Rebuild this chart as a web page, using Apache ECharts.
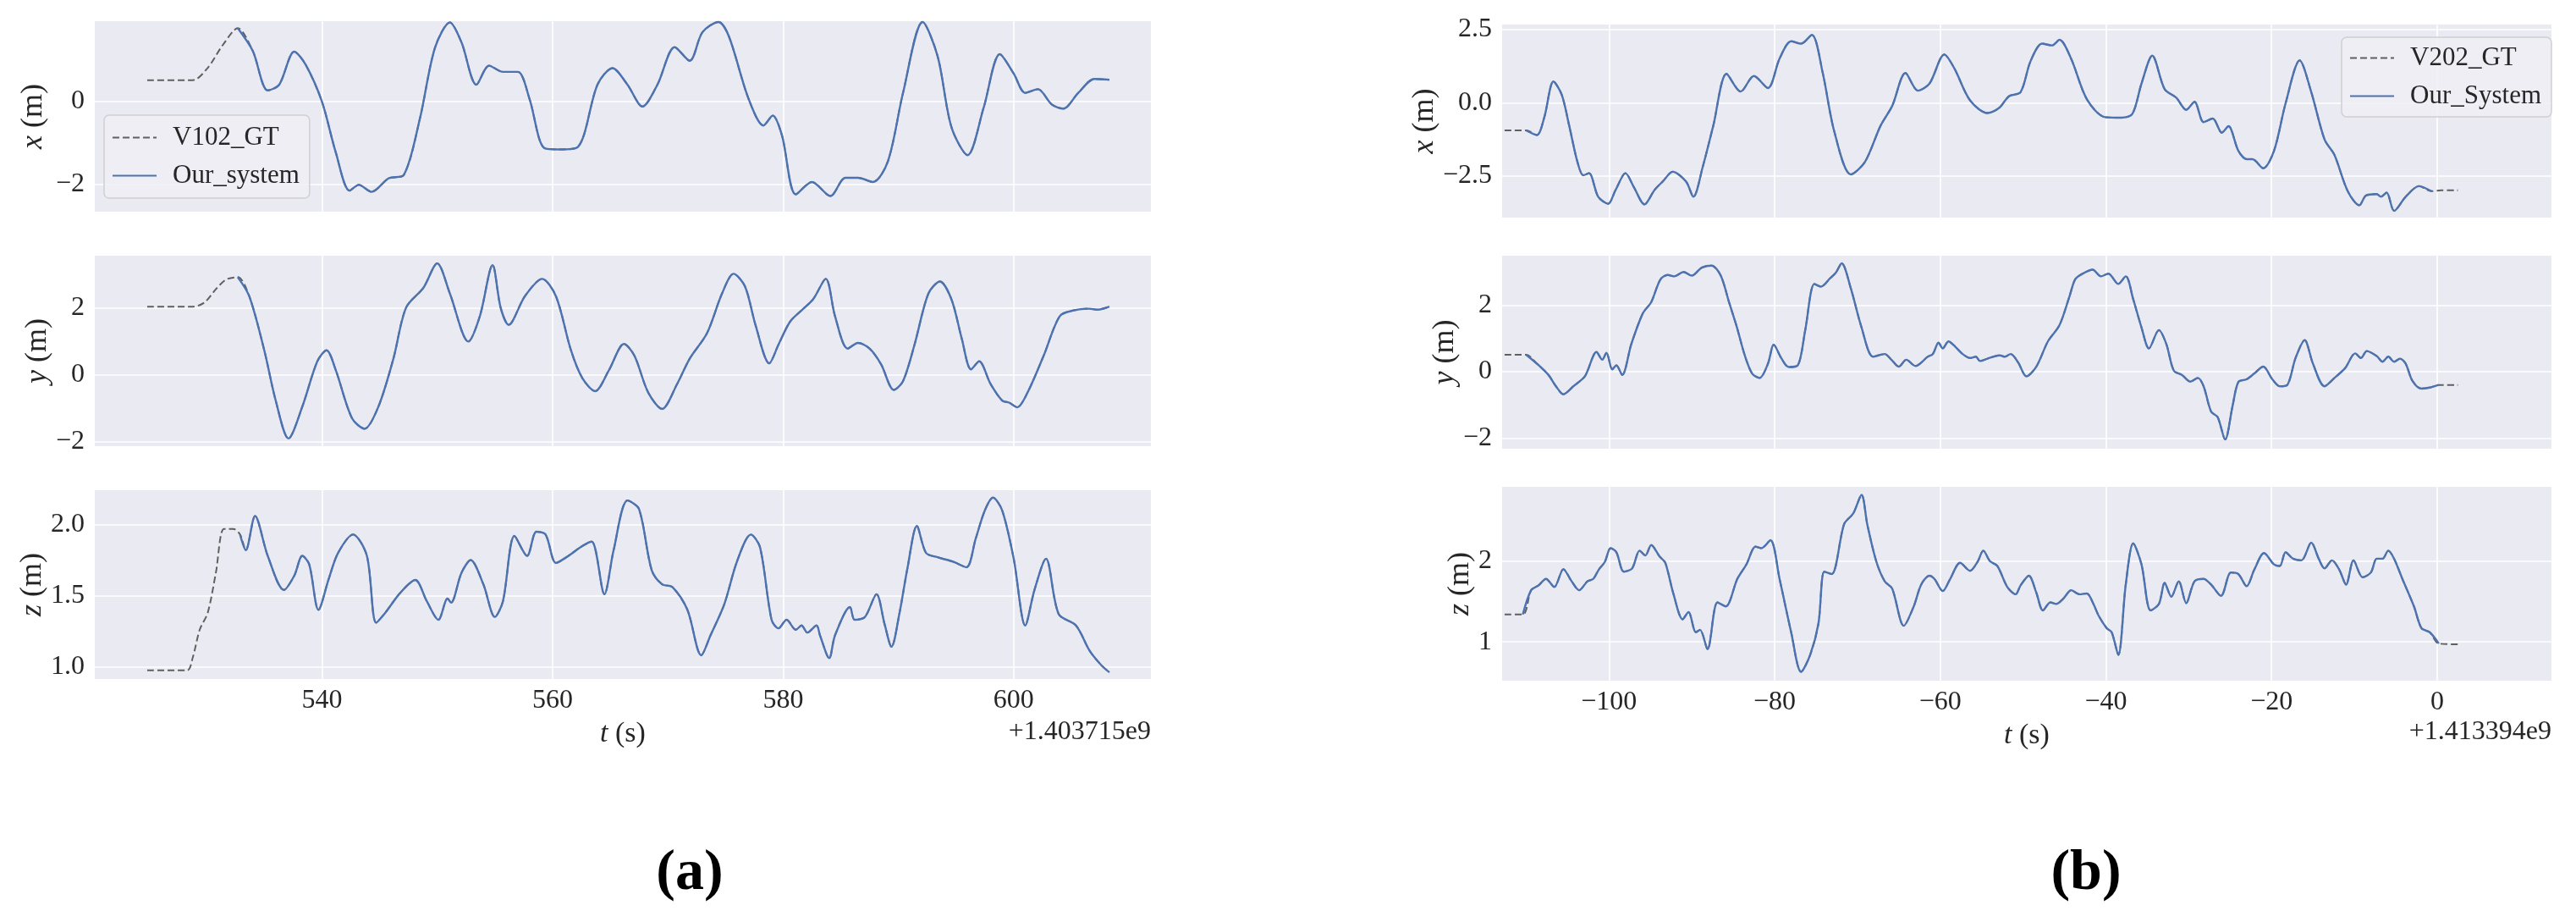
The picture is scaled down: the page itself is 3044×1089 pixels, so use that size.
<!DOCTYPE html>
<html><head><meta charset="utf-8">
<script src="https://cdn.jsdelivr.net/npm/echarts@6/dist/echarts.min.js"></script>
<style>html,body{margin:0;padding:0;background:#fff}#c{width:3044px;height:1089px}</style>
</head><body><div id="c"></div>
<script>
// ---------- (a) V102 : time offsets from 1.403715e9 s ----------
const aXt = [524.85,528.8,530.1,531.4,532.7,534.0,535.3,536.3,537.6,538.6,540.0,541.2,542.4,543.2,544.3,545.8,547.1,548.5,549.8,551.1,552.1,553.4,554.5,555.7,557.0,558.0,559.3,560.6,562.2,563.9,565.2,566.5,567.8,569.1,570.6,571.9,573.0,574.4,575.3,577.0,578.3,579.1,579.9,581.1,582.5,584.1,585.4,586.5,587.8,589.1,590.4,592.1,593.4,594.6,596.0,597.4,598.8,600.0,601.0,602.1,603.3,604.3,605.6,607.0,608.3];
const aXv = [0.52,0.52,0.82,1.37,1.78,1.23,0.27,0.41,1.21,0.89,0.0,-1.23,-2.16,-2.02,-2.19,-1.86,-1.78,-0.41,1.30,1.92,1.44,0.41,0.87,0.72,0.72,0.07,-1.13,-1.16,-1.10,0.41,0.81,0.41,-0.12,0.41,1.32,0.99,1.68,1.93,1.58,0.07,-0.58,-0.34,-0.82,-2.25,-1.95,-2.29,-1.85,-1.85,-1.95,-1.44,0.21,1.93,1.10,-0.62,-1.30,-0.14,1.15,0.68,0.21,0.30,-0.07,-0.17,0.21,0.55,0.53];
const aYt = [524.85,528.8,529.8,530.8,531.7,532.7,533.7,535.0,536.0,537.1,538.3,539.6,540.4,541.2,542.6,543.7,544.9,546.2,547.3,548.8,550.0,551.1,552.7,553.7,554.8,555.5,556.2,557.6,559.1,560.3,561.6,562.6,563.7,564.9,566.2,567.1,568.3,569.5,570.8,571.9,573.4,574.7,575.7,576.7,577.6,578.8,579.6,580.6,581.6,582.6,583.7,584.5,585.6,586.5,587.5,588.5,589.6,590.4,591.4,592.6,593.6,594.6,595.5,596.3,597.0,598.0,599.0,599.6,600.3,601.2,602.6,604.0,605.2,606.5,607.3,608.3];
const aYv = [2.03,2.03,2.15,2.55,2.84,2.91,2.34,0.73,-0.78,-1.90,-0.95,0.40,0.73,0.14,-1.29,-1.61,-0.95,0.48,2.0,2.59,3.32,2.42,0.99,1.75,3.27,2.0,1.49,2.34,2.86,2.34,0.73,-0.11,-0.49,0.14,0.92,0.57,-0.53,-1.02,-0.28,0.48,1.24,2.42,3.01,2.63,1.49,0.34,0.90,1.58,1.92,2.25,2.86,1.75,0.78,0.95,0.78,0.31,-0.45,-0.19,0.90,2.42,2.78,2.25,1.07,0.16,0.40,-0.28,-0.77,-0.83,-0.97,-0.53,0.57,1.75,1.92,1.97,1.94,2.03];
const aZt = [524.85,528.3,528.8,529.4,530.1,530.8,531.5,532.3,532.9,533.4,534.2,535.3,536.7,537.6,538.3,538.9,539.7,540.6,541.4,542.7,543.9,544.7,545.5,546.8,548.1,549.1,550.1,550.9,551.2,552.1,552.9,554.0,555.0,555.7,556.7,557.8,558.6,559.4,560.3,561.2,562.6,563.4,564.5,565.3,566.5,567.5,568.6,569.5,570.4,571.7,572.9,573.7,574.9,576.0,577.2,578.0,579.0,579.6,580.3,581.1,581.6,582.1,582.9,583.2,584.0,584.5,585.8,586.2,587.1,588.1,588.8,589.4,590.1,590.8,591.6,592.4,593.4,594.7,595.9,596.7,597.5,598.2,599.0,600.0,601.0,601.8,602.8,603.9,605.4,606.6,607.6,608.3];
const aZv = [0.974,0.974,1.065,1.26,1.38,1.66,1.97,1.97,1.93,1.82,2.06,1.78,1.54,1.64,1.78,1.72,1.40,1.62,1.80,1.93,1.78,1.31,1.38,1.52,1.61,1.46,1.33,1.48,1.45,1.66,1.75,1.58,1.35,1.46,1.92,1.78,1.95,1.93,1.73,1.77,1.85,1.88,1.51,1.82,2.17,2.11,1.68,1.58,1.56,1.40,1.08,1.22,1.44,1.74,1.93,1.84,1.33,1.27,1.33,1.26,1.29,1.24,1.29,1.22,1.06,1.22,1.42,1.33,1.35,1.51,1.30,1.14,1.38,1.70,1.99,1.80,1.77,1.74,1.70,1.90,2.10,2.19,2.10,1.76,1.29,1.54,1.76,1.37,1.29,1.11,1.01,0.96];
const aSysStart = 532.7, aSysEnd = 608.3;

// ---------- (b) V202 : time offsets from 1.413394e9 s ----------
const bXt = [-112.6,-110.0,-108.7,-107.8,-106.7,-105.7,-104.8,-103.8,-103.1,-102.4,-101.3,-100.1,-99.2,-98.0,-97.0,-95.7,-94.5,-93.5,-92.3,-90.7,-89.8,-88.7,-87.4,-85.8,-84.1,-82.5,-80.8,-79.4,-78.0,-76.8,-75.5,-74.2,-72.8,-70.8,-69.1,-67.2,-65.8,-64.2,-62.7,-61.3,-59.5,-58.3,-56.4,-54.3,-52.9,-51.7,-50.3,-49.1,-47.7,-46.5,-45.6,-44.2,-42.3,-40.1,-38.1,-36.8,-35.7,-34.4,-32.9,-31.5,-30.3,-29.3,-28.2,-27.1,-26.0,-25.2,-24.0,-23.0,-22.3,-21.0,-19.7,-18.3,-16.6,-15.2,-13.6,-12.4,-10.8,-9.4,-8.6,-7.3,-6.8,-6.1,-5.2,-3.8,-2.2,-0.7,0.5,2.5];
const bXv = [-0.94,-0.94,-1.10,-0.49,0.72,0.27,-0.78,-2.02,-2.47,-2.40,-3.20,-3.44,-2.97,-2.40,-2.87,-3.46,-2.97,-2.68,-2.35,-2.68,-3.20,-2.21,-0.78,0.98,0.38,0.91,0.50,1.50,2.09,2.01,2.31,1.03,-0.97,-2.44,-2.02,-0.78,-0.11,1.01,0.41,0.65,1.64,1.17,0.08,-0.35,-0.18,0.22,0.36,1.41,2.01,1.95,2.14,1.50,0.12,-0.49,-0.51,-0.38,0.65,1.60,0.46,0.17,-0.24,0.03,-0.66,-0.54,-1.02,-0.80,-1.64,-1.92,-1.92,-2.23,-1.64,-0.02,1.44,0.36,-1.25,-1.78,-3.01,-3.49,-3.16,-3.11,-3.20,-3.06,-3.68,-3.20,-2.84,-3.01,-2.98,-2.98];
const bYt = [-112.6,-110.0,-108.7,-107.3,-106.4,-105.5,-104.3,-102.9,-101.5,-100.8,-100.3,-99.6,-99.1,-98.4,-97.3,-95.9,-94.9,-93.8,-92.9,-92.1,-91.0,-90.0,-88.8,-87.6,-86.5,-85.5,-84.6,-83.6,-82.7,-81.8,-80.8,-80.1,-79.2,-78.3,-77.2,-76.3,-75.2,-74.4,-73.3,-72.6,-71.9,-70.8,-69.5,-68.1,-66.7,-65.9,-65.0,-64.1,-63.0,-61.5,-60.9,-60.2,-59.7,-59.0,-58.3,-57.3,-56.4,-55.7,-55.2,-54.3,-53.6,-52.8,-52.2,-51.5,-50.6,-49.6,-48.4,-47.0,-45.6,-44.4,-43.7,-42.8,-41.6,-40.6,-39.7,-38.5,-37.6,-36.7,-35.7,-34.8,-33.6,-32.7,-31.8,-30.8,-29.8,-28.9,-28.2,-27.3,-26.5,-25.6,-24.7,-24.0,-23.0,-22.1,-21.0,-19.9,-19.0,-18.1,-17.1,-16.0,-15.0,-13.6,-12.4,-11.1,-9.9,-9.2,-8.5,-7.3,-6.6,-5.9,-5.2,-4.5,-3.8,-3.0,-1.9,-0.9,0.2,2.5];
const bYv = [0.51,0.51,0.24,-0.10,-0.44,-0.68,-0.44,-0.14,0.59,0.36,0.57,0.07,0.19,-0.10,0.83,1.76,2.09,2.77,2.91,2.87,3.00,2.89,3.13,3.19,2.89,2.09,1.38,0.49,-0.06,-0.19,0.24,0.81,0.41,0.14,0.19,1.25,2.64,2.56,2.81,2.98,3.26,2.51,1.33,0.45,0.53,0.36,0.15,0.36,0.17,0.45,0.53,0.87,0.70,0.91,0.78,0.53,0.41,0.45,0.32,0.39,0.45,0.49,0.45,0.53,0.28,-0.14,0.15,0.91,1.40,2.26,2.78,2.95,3.07,2.87,2.95,2.64,2.87,2.18,1.33,0.70,1.25,0.83,0.03,-0.10,-0.30,-0.19,-0.44,-1.20,-1.37,-2.04,-1.03,-0.31,-0.23,-0.06,0.15,-0.23,-0.44,-0.40,0.41,0.95,0.24,-0.44,-0.19,0.11,0.55,0.41,0.62,0.47,0.30,0.45,0.30,0.39,0.24,-0.27,-0.51,-0.48,-0.40,-0.40];
const bZt = [-112.6,-110.4,-109.4,-108.5,-107.6,-106.6,-105.5,-104.5,-103.6,-102.6,-101.9,-101.2,-100.5,-99.8,-99.1,-98.2,-97.2,-96.3,-95.6,-94.9,-93.9,-93.2,-92.2,-91.1,-90.4,-89.5,-89.0,-88.1,-86.9,-85.9,-84.5,-83.4,-82.3,-81.6,-80.5,-79.4,-78.0,-76.8,-75.7,-74.7,-74.0,-73.1,-71.6,-70.5,-69.5,-68.8,-67.7,-66.7,-65.8,-64.4,-63.2,-62.3,-61.3,-60.7,-59.7,-58.8,-57.6,-56.4,-55.5,-54.8,-54.0,-53.1,-51.9,-50.9,-50.3,-49.3,-48.4,-47.6,-46.7,-46.0,-45.1,-44.2,-43.2,-42.3,-41.5,-40.9,-39.9,-39.3,-38.5,-37.6,-36.7,-35.7,-34.6,-33.6,-32.9,-32.1,-31.2,-30.3,-29.3,-28.2,-27.3,-26.1,-24.9,-24.0,-23.0,-22.1,-20.9,-19.7,-19.0,-18.3,-17.4,-16.4,-15.2,-14.3,-13.6,-12.7,-11.8,-11.0,-10.1,-9.0,-8.0,-7.3,-6.6,-5.9,-5.2,-4.2,-2.8,-1.9,-0.9,0.2,2.5];
const bZv = [1.34,1.34,1.64,1.70,1.78,1.68,1.90,1.75,1.64,1.75,1.78,1.90,1.99,2.16,2.11,1.87,1.91,2.13,2.07,2.20,2.06,1.98,1.59,1.28,1.37,1.12,1.15,0.91,1.49,1.44,1.78,1.96,2.18,2.16,2.26,1.78,1.12,0.63,0.84,1.23,1.87,1.84,2.46,2.59,2.82,2.45,1.99,1.75,1.66,1.20,1.44,1.71,1.82,1.78,1.63,1.78,1.98,1.88,1.99,2.13,2.00,1.94,1.68,1.59,1.70,1.82,1.61,1.39,1.49,1.47,1.54,1.64,1.59,1.60,1.47,1.33,1.17,1.12,0.84,1.71,2.22,1.96,1.39,1.47,1.73,1.56,1.75,1.48,1.75,1.78,1.71,1.57,1.86,1.84,1.69,1.89,2.10,1.96,1.94,2.11,2.03,2.01,2.23,2.03,1.91,2.01,1.89,1.71,2.01,1.80,1.86,2.03,2.03,2.13,2.03,1.78,1.44,1.17,1.12,0.98,0.97];
const bSysStart = -110.5, bSysEnd = 0.2;

// ---------- axis ticks / names ----------
const aTimeTicks = [540, 560, 580, 600];
const bTimeTicks = [-100, -80, -60, -40, -20, 0];
const aXTicks = [-2, 0], aYTicks = [-2, 0, 2], aZTicks = [1.0, 1.5, 2.0];
const bXTicks = [-2.5, 0, 2.5], bYTicks = [-2, 0, 2], bZTicks = [1, 2];
const aOffset = '+1.403715e9', bOffset = '+1.413394e9';
const aNames = ['V102_GT', 'Our_system'];
const bNames = ['V202_GT', 'Our_System'];

const FONT = '"Liberation Serif","Times New Roman",serif';
const TXT = '#262626';
const BG = '#EAEAF2';
const BLUE = '#4C72B0';
const GREY = '#606060';
const minus = s => s.replace('-', '\u2212');

function pairs(ts, vs, lo, hi) {
  const out = [];
  for (let i = 0; i < ts.length; i++) {
    if (lo === undefined || (ts[i] >= lo && ts[i] <= hi)) out.push([ts[i], vs[i]]);
  }
  return out;
}

const panels = [
  {grid:{left:112, top:25, width:1248, height:225}, xr:[520.3,611.9], yr:[-2.67,1.95], yt:aXTicks, dec:0, t:aXt, v:aXv, names:aNames, s:[aSysStart,aSysEnd], ylab:'x', gap:54, bottom:false, xt:aTimeTicks},
  {grid:{left:112, top:302, width:1248, height:225}, xr:[520.3,611.9], yr:[-2.13,3.55], yt:aYTicks, dec:0, t:aYt, v:aYv, names:aNames, s:[aSysStart,aSysEnd], ylab:'y', gap:49, bottom:false, xt:aTimeTicks},
  {grid:{left:112, top:579, width:1248, height:223}, xr:[520.3,611.9], yr:[0.913,2.242], yt:aZTicks, dec:1, t:aZt, v:aZv, names:aNames, s:[aSysStart,aSysEnd], ylab:'z', gap:52, bottom:true, xt:aTimeTicks},
  {grid:{left:1775, top:29, width:1240, height:228}, xr:[-112.9,13.8], yr:[-3.91,2.66], yt:bXTicks, dec:1, t:bXt, v:bXv, names:bNames, s:[bSysStart,bSysEnd], ylab:'x', gap:71, bottom:false, xt:bTimeTicks},
  {grid:{left:1775, top:302, width:1240, height:228}, xr:[-112.9,13.8], yr:[-2.32,3.49], yt:bYTicks, dec:0, t:bYt, v:bYv, names:bNames, s:[bSysStart,bSysEnd], ylab:'y', gap:49, bottom:false, xt:bTimeTicks},
  {grid:{left:1775, top:575, width:1240, height:229}, xr:[-112.9,13.8], yr:[0.52,2.92], yt:bZTicks, dec:0, t:bZt, v:bZv, names:bNames, s:[bSysStart,bSysEnd], ylab:'z', gap:26, bottom:true, xt:bTimeTicks}
];

const grid = [], xAxis = [], yAxis = [], series = [];
panels.forEach((p, i) => {
  grid.push(Object.assign({backgroundColor: BG, show: true, borderWidth: 0}, p.grid));
  xAxis.push({
    type: 'value', gridIndex: i, min: p.xr[0], max: p.xr[1],
    axisLine: {show: false},
    axisTick: {show: false, customValues: p.xt},
    axisLabel: {show: p.bottom, customValues: p.xt, formatter: v => minus(String(v)),
      fontFamily: FONT, fontSize: 32, color: TXT, margin: 10},
    splitLine: {show: true, lineStyle: {color: '#ffffff', width: 1.6}},
    name: p.bottom ? '{i|t} (s)' : '', nameLocation: 'middle', nameGap: 48,
    nameTextStyle: {fontFamily: FONT, fontSize: 34, color: TXT,
      rich: {i: {fontFamily: FONT, fontSize: 34, fontStyle: 'italic', color: TXT}}}
  });
  yAxis.push({
    type: 'value', gridIndex: i, min: p.yr[0], max: p.yr[1],
    axisLine: {show: false},
    axisTick: {show: false, customValues: p.yt},
    axisLabel: {customValues: p.yt, formatter: v => minus(v.toFixed(p.dec)),
      fontFamily: FONT, fontSize: 32, color: TXT, margin: 12},
    splitLine: {show: true, lineStyle: {color: '#ffffff', width: 1.6}},
    name: '{i|' + p.ylab + '} (m)', nameLocation: 'middle', nameRotate: 90, nameGap: p.gap,
    nameTextStyle: {fontFamily: FONT, fontSize: 36, color: TXT,
      rich: {i: {fontFamily: FONT, fontSize: 36, fontStyle: 'italic', color: TXT}}}
  });
  series.push({
    type: 'line', name: p.names[0], xAxisIndex: i, yAxisIndex: i,
    data: pairs(p.t, p.v), symbol: 'none', smooth: 0.3, z: 2,
    lineStyle: {color: GREY, width: 2, type: [8, 4]}, itemStyle: {color: GREY}
  });
  series.push({
    type: 'line', name: p.names[1], xAxisIndex: i, yAxisIndex: i,
    data: pairs(p.t, p.v, p.s[0], p.s[1]), symbol: 'none', smooth: 0.3, z: 3,
    lineStyle: {color: BLUE, width: 2.4}, itemStyle: {color: BLUE}
  });
});

const legendBase = {
  orient: 'vertical', itemWidth: 52, itemHeight: 14, itemGap: 14,
  backgroundColor: 'rgba(238,238,245,0.85)', borderColor: '#d0d0d0', borderWidth: 1.5, borderRadius: 6,
  itemStyle: {opacity: 0},
  textStyle: {fontFamily: FONT, fontSize: 31, color: TXT, padding: [0, 0, 0, 14]},
  selectedMode: false
};

const option = {
  animation: false,
  backgroundColor: '#ffffff',
  grid, xAxis, yAxis, series,
  legend: [
    Object.assign({}, legendBase, {data: aNames, left: 123, top: 136, padding: [11, 12, 11, 9]}),
    Object.assign({}, legendBase, {data: bNames, left: 2767, top: 44, padding: [9, 12, 9, 9]})
  ],
  graphic: [
    {type: 'text', x: 1360, y: 865, style: {text: aOffset, font: '32px ' + FONT, fill: TXT, textAlign: 'right', textVerticalAlign: 'middle'}},
    {type: 'text', x: 3015, y: 865, style: {text: bOffset, font: '32px ' + FONT, fill: TXT, textAlign: 'right', textVerticalAlign: 'middle'}},
    {type: 'text', x: 815, y: 1032, style: {text: '(a)', font: 'bold 68px ' + FONT, fill: '#000', textAlign: 'center', textVerticalAlign: 'middle'}},
    {type: 'text', x: 2465, y: 1032, style: {text: '(b)', font: 'bold 68px ' + FONT, fill: '#000', textAlign: 'center', textVerticalAlign: 'middle'}}
  ]
};

const chart = echarts.init(document.getElementById('c'), null, {renderer: 'canvas'});
chart.setOption(option);
</script>
</body></html>
